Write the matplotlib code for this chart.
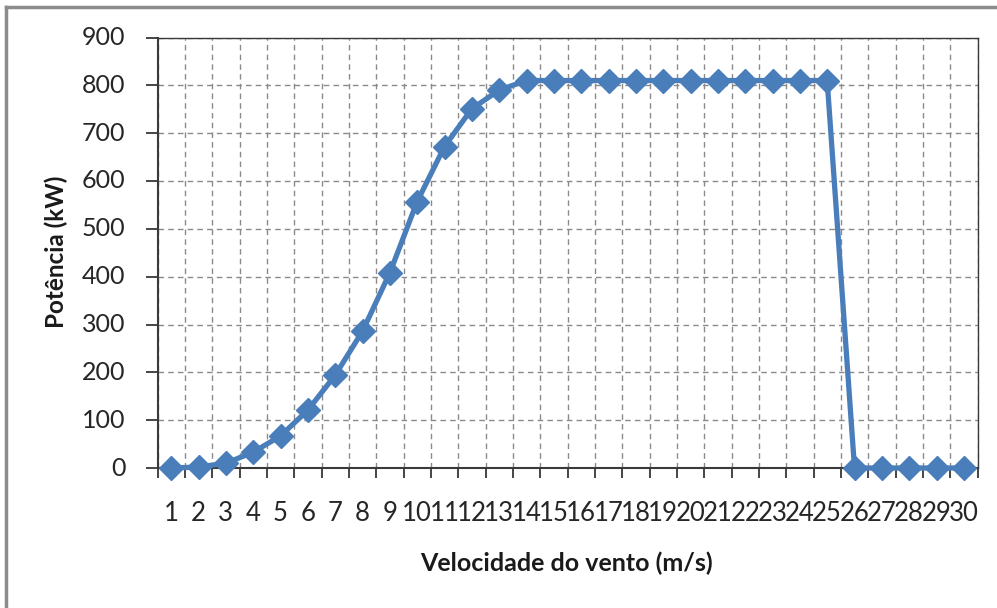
import matplotlib
matplotlib.use("Agg")
import matplotlib.pyplot as plt
from matplotlib.lines import Line2D
from matplotlib.ticker import FixedLocator

speeds = [str(i) for i in range(1, 31)]
power = [0, 2, 10, 33, 67, 121, 194, 286, 408, 557, 672, 751, 790, 810, 810,
         810, 810, 810, 810, 810, 810, 810, 810, 810, 810, 0, 0, 0, 0, 0]
yticks = [0, 100, 200, 300, 400, 500, 600, 700, 800, 900]

plt.rcParams['font.family'] = ['Lato', 'DejaVu Sans']

W, H = 997, 608
fig = plt.figure(figsize=(W / 100, H / 100), dpi=100)
ax = fig.add_axes([157.5 / W, 1 - 468 / H, 820 / W, 430.5 / H])

x = list(range(len(speeds)))
ax.plot(x, power, color='#4a7ebb', lw=3.8, marker='D', ms=12,
        markerfacecolor='#4a7ebb', markeredgecolor='#4a7ebb', zorder=3,
        clip_on=False)

ax.set_xlim(-0.5, len(speeds) - 0.5)
ax.set_ylim(0, 900)
ax.set_yticks(yticks)
ax.set_xticks(x)
ax.set_xticklabels(speeds)
ax.xaxis.set_minor_locator(FixedLocator([i - 0.5 for i in range(len(speeds) + 1)]))
ax.tick_params(axis='x', which='major', length=0, labelsize=18.5, pad=24,
               colors='#262626')
ax.tick_params(axis='x', which='minor', length=7, width=1.2, direction='out',
               color='#262626')
ax.tick_params(axis='y', which='major', length=9, width=1.2, labelsize=18,
               pad=14, colors='#262626')
for lab in ax.get_yticklabels():
    lab.set_va('center')

ax.grid(True, axis='x', which='minor', ls=(0, (4, 3)), color='#8a8a8a', lw=1.0)
ax.grid(True, axis='y', which='major', ls=(0, (4, 3)), color='#8a8a8a', lw=1.0)
ax.grid(False, axis='x', which='major')
ax.set_axisbelow(True)

for s in ['top', 'right']:
    ax.spines[s].set_color('#3a3a3a')
    ax.spines[s].set_linewidth(1.0)
for s in ['left', 'bottom']:
    ax.spines[s].set_color('#3a3a3a')
    ax.spines[s].set_linewidth(1.5)

fig.text(566 / W, 1 - 563 / H, 'Velocidade do vento (m/s)', ha='center',
         va='center', fontsize=18, fontweight='bold', color='#1a1a1a')
fig.text(56 / W, 1 - 252 / H, 'Potência (kW)', ha='center', va='center',
         rotation=90, fontsize=17.5, fontweight='bold', color='#1a1a1a')

# outer chart-area border (left and top visible)
fig.add_artist(Line2D([6 / W, 6 / W], [0, 1 - 7 / H], color='#8c8c8c', lw=2.5,
                      transform=fig.transFigure))
fig.add_artist(Line2D([6 / W, 1], [1 - 7 / H, 1 - 7 / H], color='#8c8c8c', lw=2.5,
                      transform=fig.transFigure))

fig.savefig('out.png', dpi=100)
